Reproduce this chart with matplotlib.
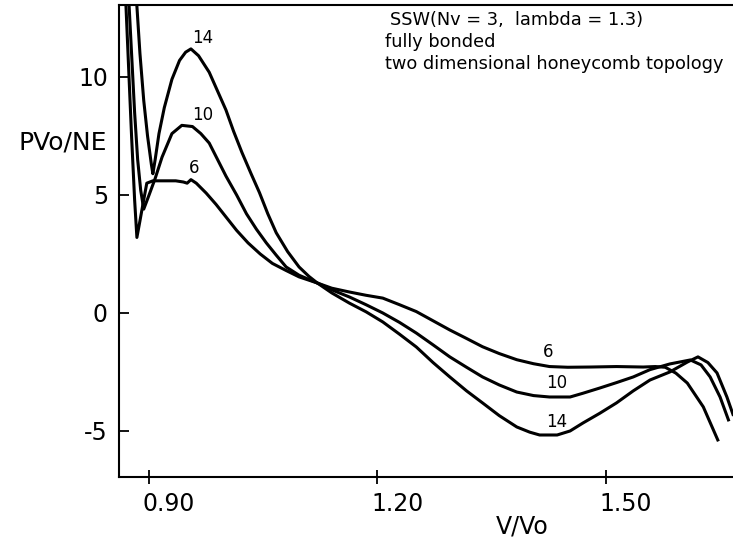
import matplotlib
matplotlib.use("Agg")
import matplotlib.pyplot as plt
from matplotlib.transforms import ScaledTranslation

# curve data (V/Vo, PVo/NE)
n6_x = [0.869, 0.873, 0.877, 0.881, 0.884, 0.888, 0.893, 0.897, 0.905, 0.920,
        0.935, 0.945, 0.950, 0.955, 0.962, 0.975, 0.988, 1.001, 1.015, 1.030,
        1.046, 1.062, 1.080, 1.097, 1.121, 1.140, 1.163, 1.185, 1.207, 1.229,
        1.251, 1.273, 1.295, 1.317, 1.338, 1.360, 1.383, 1.405, 1.426, 1.450,
        1.480, 1.514, 1.549, 1.565, 1.578, 1.592, 1.607, 1.628, 1.647]
n6_y = [13.5, 10.5, 7.5, 4.8, 3.2, 3.9, 4.8, 5.5, 5.6, 5.6,
        5.6, 5.55, 5.5, 5.65, 5.5, 5.08, 4.6, 4.07, 3.5, 2.97,
        2.5, 2.1, 1.8, 1.53, 1.27, 1.05, 0.89, 0.75, 0.63, 0.35,
        0.06, -0.33, -0.72, -1.08, -1.43, -1.72, -1.98, -2.15, -2.27, -2.3,
        -2.29, -2.27, -2.29, -2.27, -2.3, -2.55, -2.97, -3.98, -5.38]

n10_x = [0.873, 0.877, 0.881, 0.885, 0.889, 0.893, 0.900, 0.908, 0.917, 0.930,
         0.943, 0.957, 0.968, 0.979, 0.990, 1.001, 1.015, 1.028, 1.041, 1.054,
         1.067, 1.080, 1.097, 1.121, 1.140, 1.163, 1.185, 1.207, 1.229, 1.251,
         1.273, 1.295, 1.317, 1.338, 1.360, 1.383, 1.405, 1.426, 1.453, 1.470,
         1.492, 1.514, 1.536, 1.558, 1.584, 1.611, 1.625, 1.637, 1.650, 1.661]
n10_y = [13.5, 11.0, 8.5, 6.5, 5.2, 4.4, 5.0, 5.7, 6.6, 7.6,
         7.95, 7.9, 7.6, 7.2, 6.5, 5.8, 5.0, 4.2, 3.55, 2.97,
         2.45, 1.95, 1.6, 1.27, 0.98, 0.68, 0.35, 0.0, -0.4, -0.85,
         -1.35, -1.86, -2.3, -2.71, -3.05, -3.35, -3.5, -3.56, -3.56, -3.4,
         -3.18, -2.95, -2.71, -2.4, -2.16, -1.99, -2.2, -2.71, -3.56, -4.53]

n14_x = [0.883, 0.888, 0.893, 0.898, 0.903, 0.905, 0.908, 0.913, 0.920, 0.930,
         0.940, 0.948, 0.955, 0.965, 0.979, 0.990, 1.001, 1.011, 1.022, 1.034,
         1.045, 1.056, 1.067, 1.082, 1.097, 1.110, 1.121, 1.140, 1.163, 1.185,
         1.207, 1.229, 1.251, 1.273, 1.295, 1.317, 1.338, 1.360, 1.383, 1.400,
         1.413, 1.436, 1.453, 1.470, 1.492, 1.514, 1.536, 1.558, 1.584, 1.607,
         1.621, 1.634, 1.646, 1.659, 1.667]
n14_y = [13.5, 11.0, 9.0, 7.5, 6.3, 5.9, 6.5, 7.6, 8.7, 9.9,
         10.7, 11.05, 11.19, 10.9, 10.2, 9.4, 8.6, 7.7, 6.8, 5.9,
         5.1, 4.2, 3.4, 2.6, 1.95, 1.55, 1.27, 0.85, 0.42, 0.05,
         -0.38, -0.9, -1.44, -2.1, -2.71, -3.3, -3.81, -4.35, -4.83, -5.05,
         -5.17, -5.17, -5.0, -4.66, -4.25, -3.81, -3.3, -2.84, -2.5, -2.08,
         -1.86, -2.1, -2.54, -3.56, -4.3]

x_ticks = [0.90, 1.20, 1.50]
x_tick_labels = ["0.90", "1.20", "1.50"]
y_ticks = [-5, 0, 5, 10]
y_tick_labels = ["-5", "0", "5", "10"]

# curve labels: text, x, y (upper and lower)
labels = [("14", 0.970, 11.65), ("10", 0.970, 8.39), ("6", 0.959, 6.14),
          ("6", 1.424, -1.65), ("10", 1.436, -2.97), ("14", 1.436, -4.62)]

fig = plt.figure(figsize=(7.33, 5.44), dpi=100)
ax = fig.add_axes([119/733, 1 - 477/544, 1 - 119/733, (477 - 5)/544])

for xs, ys in [(n6_x, n6_y), (n10_x, n10_y), (n14_x, n14_y)]:
    ax.plot(xs, ys, color="black", linewidth=2.2, solid_joinstyle="round")

for txt, x, y in labels:
    ax.text(x, y, txt, fontsize=12, ha="center", va="center")

ax.set_xlim(0.8605, 1.667)
ax.set_ylim(-6.95, 13.05)
ax.spines["right"].set_visible(False)
for s in ["top", "left", "bottom"]:
    ax.spines[s].set_linewidth(1.5)

ax.set_xticks(x_ticks)
ax.set_xticklabels(x_tick_labels, fontsize=17)
ax.set_yticks(y_ticks)
ax.set_yticklabels(y_tick_labels, fontsize=17)
ax.tick_params(axis="x", direction="inout", length=10, width=1.3, pad=6)
ax.tick_params(axis="y", direction="in", length=7, width=1.3, pad=8)
for lab in ax.get_xticklabels():
    lab.set_transform(lab.get_transform() + ScaledTranslation(0.2, 0, fig.dpi_scale_trans))

fig.text(107/733, 1 - 142/544, "PVo/NE", fontsize=18, ha="right", va="center")
fig.text(522/733, 1 - 526/544, "V/Vo", fontsize=17, ha="center", va="center")

fig.text(390/733, 1 - 20/544, "SSW(Nv = 3,  lambda = 1.3)", fontsize=12.8, va="center")
fig.text(385/733, 1 - 42/544, "fully bonded", fontsize=12.8, va="center")
fig.text(385/733, 1 - 64/544, "two dimensional honeycomb topology", fontsize=12.8, va="center")

fig.savefig("out.png", dpi=100)
